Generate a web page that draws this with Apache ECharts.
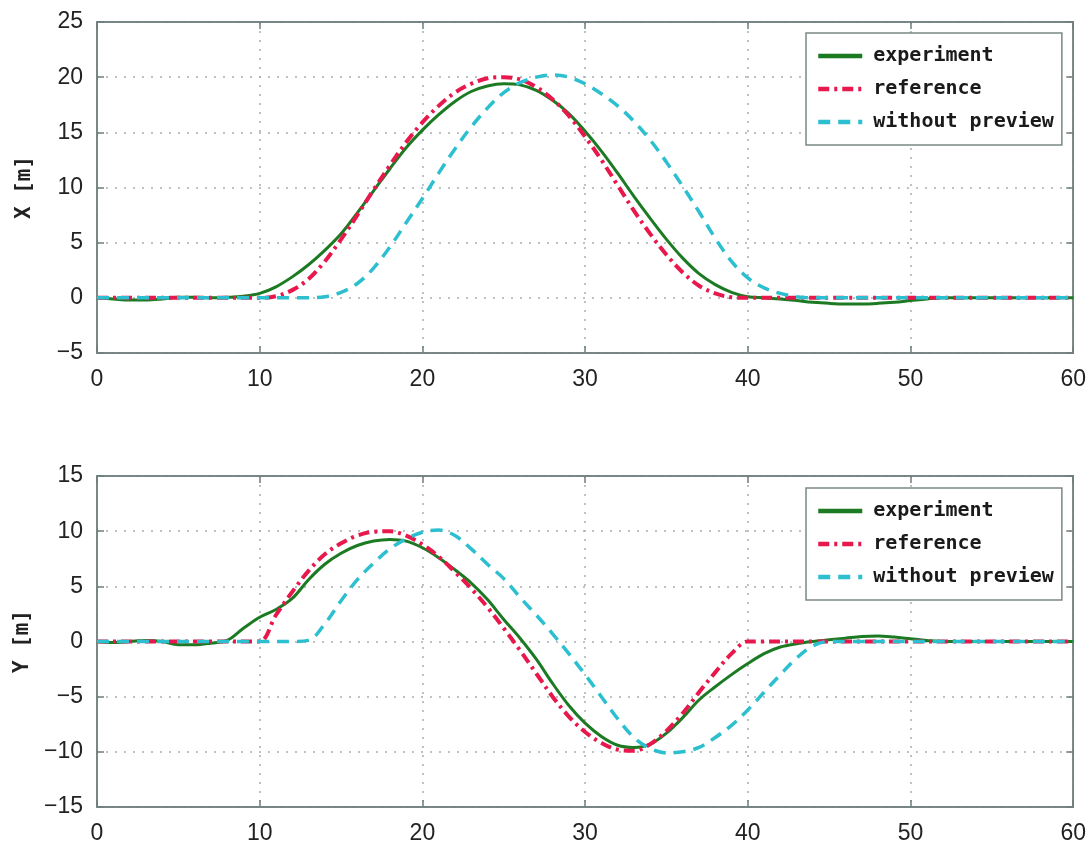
<!DOCTYPE html>
<html>
<head>
<meta charset="utf-8">
<script src="https://cdn.jsdelivr.net/npm/echarts@6/dist/echarts.min.js"></script>
<style>
html,body{margin:0;padding:0;background:#fff;}
#chart{width:1089px;height:848px;}
</style>
</head>
<body>
<div id="chart"></div>
<script>
// time [s]
const time = [0,1,2,3,4,5,6,7,8,9,10,11,12,13,14,15,16,17,18,19,20,21,22,23,24,25,26,27,28,29,30,31,32,33,34,35,36,37,38,39,40,41,42,43,44,45,46,47,48,49,50,51,52,53,54,55,56,57,58,59,60];

// X [m]
const xExperiment = [0,-0.1,-0.2,-0.2,-0.1,0.05,0.05,0,0.05,0.15,0.4,1.0,1.9,3.0,4.3,5.8,7.7,9.7,11.7,13.6,15.2,16.6,17.8,18.7,19.2,19.4,19.3,18.8,17.9,16.7,15.1,13.3,11.3,9.2,7.2,5.3,3.6,2.2,1.2,0.5,0.1,0,-0.1,-0.25,-0.4,-0.5,-0.55,-0.55,-0.5,-0.4,-0.25,-0.1,0,0,0,0,0,0,0,0,0];
const xReference = [0,0,0,0,0,0,0,0,0,0,0,0.15,0.7,1.7,3.3,5.3,7.5,9.8,12.0,14.1,15.9,17.4,18.6,19.4,19.9,20.0,19.8,19.1,18.0,16.5,14.6,12.5,10.2,7.9,5.8,3.9,2.3,1.1,0.4,0.05,0,0,0,0,0,0,0,0,0,0,0,0,0,0,0,0,0,0,0,0,0];
const xWithout = [0,0,0,0,0,0,0,0,0,0,0,0,0,0,0.1,0.5,1.3,2.7,4.6,6.8,9.0,11.3,13.5,15.5,17.2,18.6,19.5,20.0,20.2,20.0,19.4,18.5,17.4,16.0,14.3,12.3,10.1,7.8,5.4,3.3,1.8,0.9,0.4,0.1,0,0,0,0,0,0,0,0,0,0,0,0,0,0,0,0,0];

// Y [m]
const yExperiment = [0,-0.1,0,0.1,0,-0.3,-0.3,-0.15,0.1,1.2,2.2,2.9,3.9,5.6,7.0,8.0,8.7,9.1,9.25,9.1,8.5,7.6,6.5,5.3,3.8,2.0,0.3,-1.6,-3.8,-5.8,-7.4,-8.6,-9.4,-9.6,-9.3,-8.3,-6.9,-5.3,-4.1,-3.0,-2.0,-1.1,-0.5,-0.2,0,0.15,0.3,0.45,0.5,0.4,0.25,0.1,0,0,0,0,0,0,0,0,0];
const yReference = [0,0,0,0,0,0,0,0,0,0,0,2.4,4.5,6.4,7.9,8.9,9.6,9.95,10.0,9.6,8.8,7.7,6.3,4.8,3.1,1.2,-0.8,-2.9,-5.0,-6.8,-8.2,-9.2,-9.8,-9.9,-9.3,-8.1,-6.5,-4.6,-2.8,-1.1,0,0,0,0,0,0,0,0,0,0,0,0,0,0,0,0,0,0,0,0,0];
const yWithout = [0,0,0,0,0,0,0,0,0,0,0,0,0,0.1,1.6,3.7,5.6,7.1,8.4,9.3,9.9,10.1,9.6,8.4,7.0,5.7,4.0,2.4,0.7,-1.1,-3.0,-5.0,-7.0,-8.7,-9.7,-10.1,-10.0,-9.6,-8.7,-7.6,-6.2,-4.6,-3.0,-1.5,-0.4,0,0,0,0,0,0,0,0,0,0,0,0,0,0,0,0];

const seriesNames = ['experiment', 'reference', 'without preview'];
const xTicks = {min: 0, max: 60, interval: 10};
const topTicks = {min: -5, max: 25, interval: 5};
const bottomTicks = {min: -15, max: 15, interval: 5};
const yNames = ['X [m]', 'Y [m]'];

const pair = arr => time.map((t, i) => [t, arr[i]]);

const axisColor = '#6f7f7d';
const labelFont = {fontFamily: "'Liberation Sans', Arial, sans-serif", fontSize: 23, color: '#222'};
const fmt = v => String(v).replace('-', '\u2212');

const styles = [
  {color: '#1b7a22', width: 3, type: 'solid'},
  {color: '#e8174c', width: 4, type: [11, 5, 3, 5]},
  {color: '#2bbfcf', width: 3.5, type: [12, 8]}
];

const grids = [
  {left: 97, top: 22, width: 978, height: 331},
  {left: 97, top: 476, width: 978, height: 331}
];

function xAxisMain(gi) {
  return {
    type: 'value', gridIndex: gi, min: xTicks.min, max: xTicks.max, interval: xTicks.interval,
    axisLine: {onZero: false, lineStyle: {color: axisColor, width: 1.5}},
    axisTick: {inside: true, length: 7, lineStyle: {color: axisColor, width: 1.5}},
    axisLabel: Object.assign({margin: 15, formatter: fmt}, labelFont),
    splitLine: {show: true, lineStyle: {color: '#a9adad', width: 1.5, type: [2, 7]}}
  };
}
function xAxisTop(gi) {
  return {
    type: 'value', gridIndex: gi, position: 'top', min: xTicks.min, max: xTicks.max, interval: xTicks.interval,
    axisLine: {onZero: false, lineStyle: {color: axisColor, width: 1.5}},
    axisTick: {inside: true, length: 7, lineStyle: {color: axisColor, width: 1.5}},
    axisLabel: {show: false}, splitLine: {show: false}
  };
}
function yAxisMain(gi, tk, name) {
  return {
    type: 'value', gridIndex: gi, min: tk.min, max: tk.max, interval: tk.interval,
    name: name, nameLocation: 'middle', nameGap: 62, nameRotate: 90,
    nameTextStyle: {fontFamily: "'DejaVu Sans Mono', monospace", fontSize: 21, color: '#222', fontWeight: 'bold'},
    axisLine: {onZero: false, lineStyle: {color: axisColor, width: 1.5}},
    axisTick: {inside: true, length: 7, lineStyle: {color: axisColor, width: 1.5}},
    axisLabel: Object.assign({margin: 14, formatter: fmt}, labelFont),
    splitLine: {show: true, lineStyle: {color: '#a9adad', width: 1.5, type: [2, 7]}}
  };
}
function yAxisRight(gi, tk) {
  return {
    type: 'value', gridIndex: gi, position: 'right', min: tk.min, max: tk.max, interval: tk.interval,
    axisLine: {onZero: false, lineStyle: {color: axisColor, width: 1.5}},
    axisTick: {inside: true, length: 7, lineStyle: {color: axisColor, width: 1.5}},
    axisLabel: {show: false}, splitLine: {show: false}
  };
}

function mkSeries(name, data, gi, st) {
  return {
    name: name, type: 'line', xAxisIndex: gi * 2, yAxisIndex: gi * 2,
    data: pair(data), showSymbol: false, symbol: 'none', smooth: 0.35,
    lineStyle: {color: st.color, width: st.width, type: st.type},
    itemStyle: {color: st.color}, animation: false
  };
}

function mkLegend(top) {
  return {
    data: seriesNames, orient: 'vertical', left: 806, top: top,
    backgroundColor: '#fff', borderColor: '#7a8886', borderWidth: 1.5,
    padding: [13, 8, 13, 10], itemGap: 13, itemWidth: 44, itemHeight: 14,
    itemStyle: {opacity: 0, borderWidth: 0},
    lineStyle: {width: 4.5},
    textStyle: {fontFamily: "'DejaVu Sans Mono', monospace", fontSize: 20, fontWeight: 'bold', color: '#1a1a1a', lineHeight: 19, padding: [0, 0, 0, 6]},
    selectedMode: false
  };
}

const chart = echarts.init(document.getElementById('chart'), null, {renderer: 'canvas'});
const option = {
  backgroundColor: '#fff',
  animation: false,
  grid: grids.map(g => Object.assign({show: true, borderColor: axisColor, borderWidth: 1.5, backgroundColor: 'transparent'}, g)),
  xAxis: [xAxisMain(0), xAxisTop(0), xAxisMain(1), xAxisTop(1)],
  yAxis: [yAxisMain(0, topTicks, yNames[0]), yAxisRight(0, topTicks), yAxisMain(1, bottomTicks, yNames[1]), yAxisRight(1, bottomTicks)],
  legend: [mkLegend(33), mkLegend(488)],
  series: [
    mkSeries(seriesNames[0], xExperiment, 0, styles[0]),
    mkSeries(seriesNames[1], xReference, 0, styles[1]),
    mkSeries(seriesNames[2], xWithout, 0, styles[2]),
    mkSeries(seriesNames[0], yExperiment, 1, styles[0]),
    mkSeries(seriesNames[1], yReference, 1, styles[1]),
    mkSeries(seriesNames[2], yWithout, 1, styles[2])
  ]
};
chart.setOption(option);
</script>
</body>
</html>
